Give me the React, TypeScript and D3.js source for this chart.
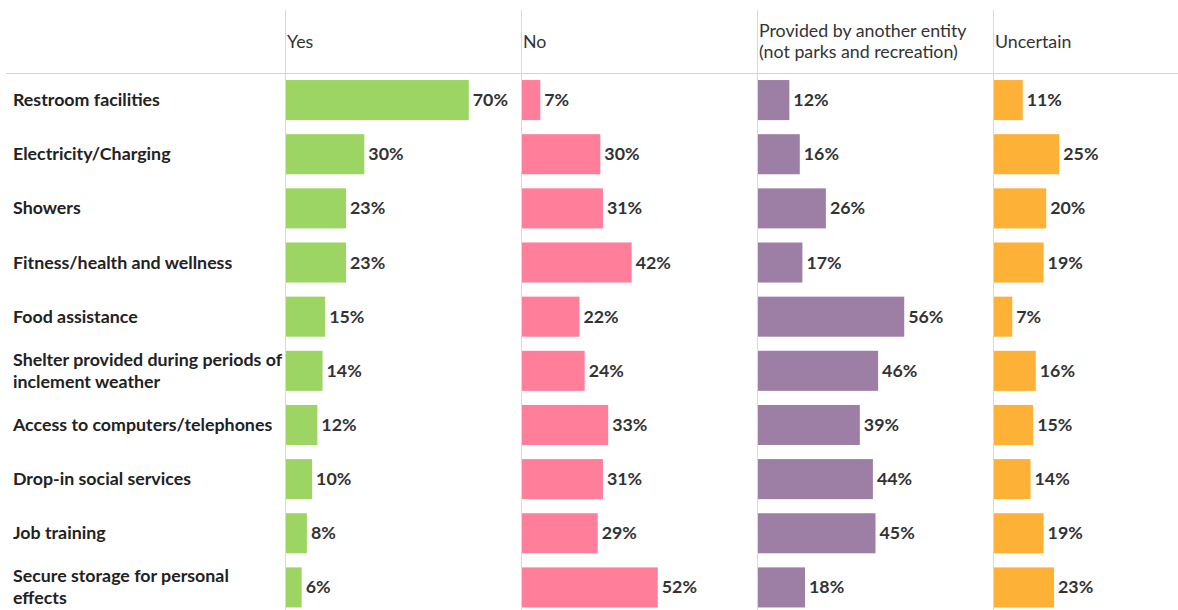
import React, { useRef, useEffect } from 'react';
import * as d3 from 'd3';

const categories = [
  'Restroom facilities',
  'Electricity/Charging',
  'Showers',
  'Fitness/health and wellness',
  'Food assistance',
  'Shelter provided during periods of\ninclement weather',
  'Access to computers/telephones',
  'Drop-in social services',
  'Job training',
  'Secure storage for personal\neffects',
];

const seriesNames = ['Yes', 'No', 'Provided by another entity\n(not parks and recreation)', 'Uncertain'];
const seriesColors = ['#9cd563', '#ff7f9a', '#9d7fa5', '#fdb137'];

const yesValues = [70, 30, 23, 23, 15, 14, 12, 10, 8, 6];
const noValues = [7, 30, 31, 42, 22, 24, 33, 31, 29, 52];
const otherValues = [12, 16, 26, 17, 56, 46, 39, 44, 45, 18];
const uncertainValues = [11, 25, 20, 19, 7, 16, 15, 14, 19, 23];

const W = 1178;
const H = 610;
const FONT = "Lato, 'Open Sans', sans-serif";

const Chart: React.FC = () => {
  const svgRef = useRef<SVGSVGElement | null>(null);

  useEffect(() => {
    const svg = d3.select(svgRef.current!);
    svg.selectAll('*').remove();

    const allSeries = [yesValues, noValues, otherValues, uncertainValues];
    const paneStarts = [285, 521, 757, 993];
    const headerBottom = 73;

    const y = d3.scaleBand<string>()
      .domain(categories)
      .range([headerBottom, headerBottom + 54.15 * categories.length])
      .paddingInner(0.26)
      .paddingOuter(0.13);

    const x = d3.scaleLinear().domain([0, 90]).range([0, 235]);

    // grid lines
    svg.append('g')
      .selectAll('line')
      .data(paneStarts)
      .enter()
      .append('line')
      .attr('x1', (d) => d + 0.5)
      .attr('x2', (d) => d + 0.5)
      .attr('y1', 10)
      .attr('y2', H)
      .attr('stroke', '#d9d9d9')
      .attr('stroke-width', 1);

    svg.append('line')
      .attr('x1', 6)
      .attr('x2', W)
      .attr('y1', headerBottom + 0.5)
      .attr('y2', headerBottom + 0.5)
      .attr('stroke', '#d4d4d4');

    // column headers
    seriesNames.forEach((name, i) => {
      const lines = name.split('\n');
      const t = svg.append('text')
        .attr('x', paneStarts[i] + 2)
        .attr('y', lines.length > 1 ? 37 : 48)
        .attr('font-family', FONT)
        .attr('font-size', 17.8)
        .attr('fill', '#333');
      lines.forEach((ln, j) => {
        t.append('tspan')
          .attr('x', paneStarts[i] + 2)
          .attr('dy', j === 0 ? 0 : 21)
          .text(ln);
      });
    });

    // row labels
    const labels = svg.append('g');
    categories.forEach((c) => {
      const lines = c.split('\n');
      const cy = y(c)! + y.bandwidth() / 2;
      const t = labels.append('text')
        .attr('x', 13)
        .attr('y', cy + 6 - (lines.length - 1) * 11)
        .attr('font-family', FONT)
        .attr('font-size', 17.8)
        .attr('font-weight', 'bold')
        .attr('fill', '#222');
      lines.forEach((ln, j) => {
        t.append('tspan')
          .attr('x', 13)
          .attr('dy', j === 0 ? 0 : 22)
          .text(ln);
      });
    });

    // bars
    allSeries.forEach((vals, i) => {
      const g = svg.append('g').attr('transform', `translate(${paneStarts[i] + 1},0)`);
      g.selectAll('rect')
        .data(vals)
        .enter()
        .append('rect')
        .attr('x', 0)
        .attr('y', (_d, k) => y(categories[k])!)
        .attr('width', (d) => x(d))
        .attr('height', y.bandwidth())
        .attr('fill', seriesColors[i]);

      g.selectAll('text')
        .data(vals)
        .enter()
        .append('text')
        .attr('x', (d) => x(d) + 4)
        .attr('y', (_d, k) => y(categories[k])! + y.bandwidth() / 2 + 6)
        .attr('font-family', FONT)
        .attr('font-size', 17.8)
        .attr('font-weight', 'bold')
        .attr('fill', '#333')
        .text((d) => `${d}%`);
    });
  }, []);

  return (
    <svg
      ref={svgRef}
      width={W}
      height={H}
      style={{ position: 'absolute', left: 0, top: 0, display: 'block' }}
    ></svg>
  );
};

export default function App() {
  return <Chart />;
}
